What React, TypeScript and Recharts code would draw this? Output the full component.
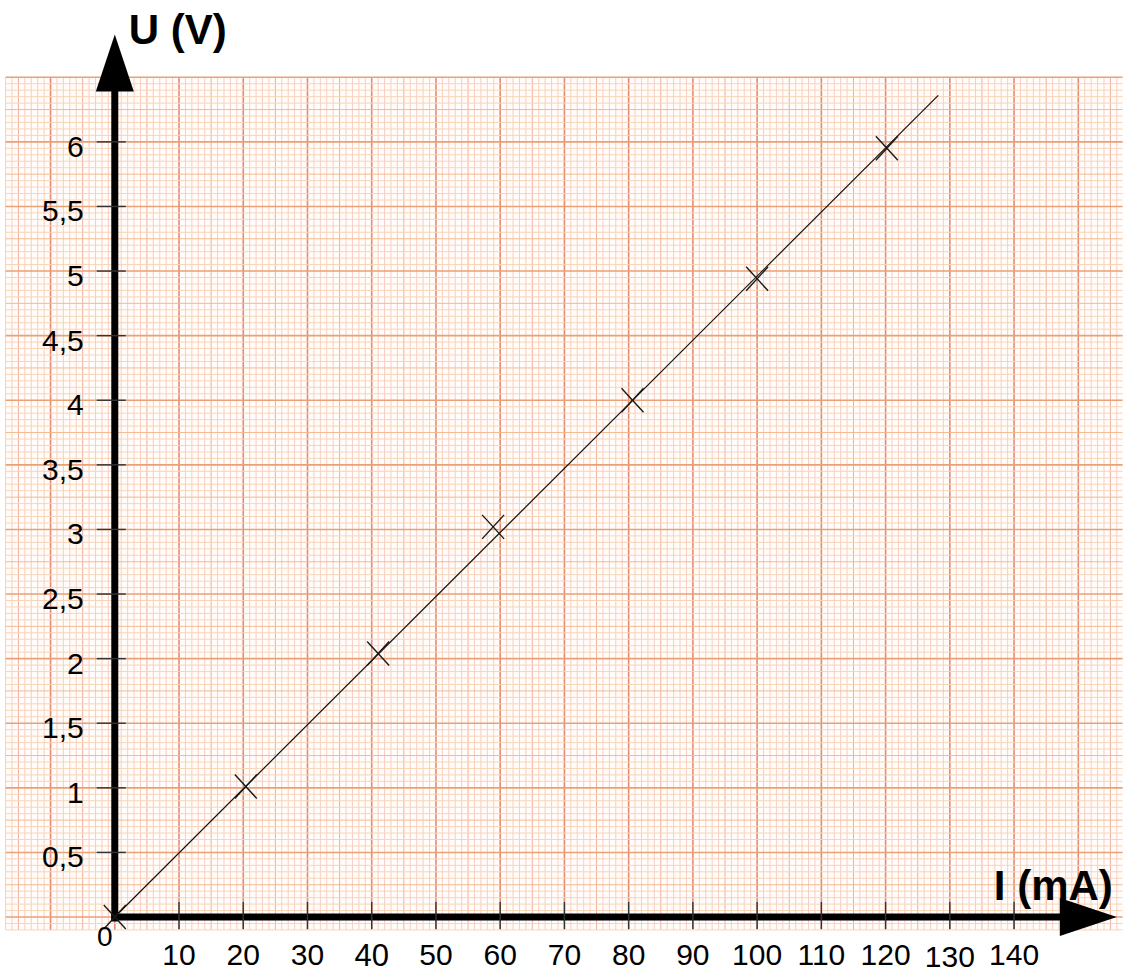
import {
  ComposedChart,
  Line,
  ReferenceArea,
  ReferenceDot,
  ReferenceLine,
  Scatter,
  XAxis,
  YAxis,
} from "recharts";

const CURRENT_MA = [0, 20.4, 41.0, 58.9, 80.6, 100.0, 120.2];
const VOLTAGE_V = [0, 1.01, 2.04, 3.02, 4.0, 4.94, 5.95];

// hand-drawn fit line
const FIT_I = [0, 128.2];
const FIT_U = [0, 6.36];

const X_TICKS = [10, 20, 30, 40, 50, 60, 70, 80, 90, 100, 110, 120, 130, 140];
const X_TICK_LABELS = ["10", "20", "30", "40", "50", "60", "70", "80", "90", "100", "110", "120", "130", "140"];
const Y_TICKS = [0.5, 1, 1.5, 2, 2.5, 3, 3.5, 4, 4.5, 5, 5.5, 6];
const Y_TICK_LABELS = ["0,5", "1", "1,5", "2", "2,5", "3", "3,5", "4", "4,5", "5", "5,5", "6"];

const X_TITLE = "I (mA)";
const Y_TITLE = "U (V)";

const WIDTH = 1123;
const HEIGHT = 974;
const X_DOMAIN: [number, number] = [-17.87, 156.96];
const Y_DOMAIN: [number, number] = [-0.441, 7.098];

// graph paper extent (data units)
const PAPER_X: [number, number] = [-17, 156.9];
const PAPER_Y: [number, number] = [-0.1, 6.5];

// axis arrows
const Y_ARROW_BASE = 6.4;
const Y_ARROW_TIP = 6.83;
const X_ARROW_BASE = 147.5;
const X_ARROW_TIP = 156.0;

const FONT = "'Liberation Sans', Arial, sans-serif";

const points = CURRENT_MA.map((x, i) => ({ x, y: VOLTAGE_V[i] }));
const fit = FIT_I.map((x, i) => ({ x, y: FIT_U[i] }));
const xTickData = X_TICKS.map((x, i) => ({ x, y: 0, label: X_TICK_LABELS[i] }));
const yTickData = Y_TICKS.map((y, i) => ({ x: 0, y, label: Y_TICK_LABELS[i] }));

// a few labels sit a little off on the original sheet
const X_LABEL_NUDGE: Record<string, { dy: number; size: number }> = {
  "40": { dy: 1, size: 31 },
  "130": { dy: 2, size: 30 },
};

// mm paper: 1 mA / 0.05 V per small square
const vLines: { v: number; kind: number }[] = [];
for (let i = Math.ceil(PAPER_X[0]); i <= Math.floor(PAPER_X[1]); i++) {
  vLines.push({ v: i, kind: i % 10 === 0 ? 2 : i % 5 === 0 ? 1 : 0 });
}
const hLines: { v: number; kind: number }[] = [];
for (let k = -2; k <= 130; k++) {
  hLines.push({ v: k * 0.05, kind: k % 10 === 0 ? 2 : k % 5 === 0 ? 1 : 0 });
}
const V_COLORS = ["#f7cec3", "#f0b09e", "#e48b74"];
const H_COLORS = ["#f8d5b6", "#f2bb93", "#e9a275"];
const WIDTHS = [1, 1, 1.6];

const Cross = (props: any) => {
  const { cx, cy } = props;
  return (
    <g stroke="#1a1a1a" strokeWidth={1.4}>
      <line x1={cx - 11} y1={cy - 12} x2={cx + 11} y2={cy + 12} />
      <line x1={cx - 11} y1={cy + 12} x2={cx + 11} y2={cy - 12} />
    </g>
  );
};

const XTick = (props: any) => {
  const { cx, cy, payload } = props;
  const n = X_LABEL_NUDGE[payload.label] || { dy: 0, size: 30 };
  return (
    <g>
      <line x1={cx} y1={cy - 15} x2={cx} y2={cy + 12} stroke="#333" strokeWidth={1.4} />
      <text x={cx} y={cy + 48 + n.dy} textAnchor="middle" fontSize={n.size} fontFamily={FONT} fill="#000">
        {payload.label}
      </text>
    </g>
  );
};

const YTick = (props: any) => {
  const { cx, cy, payload } = props;
  return (
    <g>
      <line x1={cx - 18} y1={cy} x2={cx + 11} y2={cy} stroke="#333" strokeWidth={1.4} />
      <text x={cx - 31} y={cy + 15} textAnchor="end" fontSize={30} fontFamily={FONT} fill="#000">
        {payload.label}
      </text>
    </g>
  );
};

const YArrow = (props: any) => {
  const { cx, cy } = props;
  return (
    <g>
      <polygon points={`${cx},${cy} ${cx - 19},${cy + 57} ${cx + 19},${cy + 57}`} fill="#000" />
      <text x={cx + 14} y={cy + 9} fontSize={42} fontWeight="bold" fontFamily={FONT} fill="#000">
        {Y_TITLE}
      </text>
    </g>
  );
};

const XArrow = (props: any) => {
  const { cx, cy } = props;
  return (
    <g>
      <polygon points={`${cx},${cy} ${cx - 57},${cy - 19} ${cx - 57},${cy + 19}`} fill="#000" />
      <text x={cx - 4} y={cy - 17} textAnchor="end" fontSize={42} fontWeight="bold" fontFamily={FONT} fill="#000">
        {X_TITLE}
      </text>
      <text x={cx - 1012} y={cy + 29} textAnchor="middle" fontSize={28} fontFamily={FONT} fill="#000">
        0
      </text>
    </g>
  );
};

export default function App() {
  return (
    <div style={{ position: "absolute", left: 0, top: 0, background: "#fff" }}>
      <ComposedChart width={WIDTH} height={HEIGHT} margin={{ top: 0, right: 0, bottom: 0, left: 0 }}>
        <XAxis type="number" dataKey="x" domain={X_DOMAIN} allowDataOverflow hide />
        <YAxis type="number" dataKey="y" domain={Y_DOMAIN} allowDataOverflow hide />

        <ReferenceArea x1={PAPER_X[0]} x2={PAPER_X[1]} y1={PAPER_Y[0]} y2={PAPER_Y[1]} fill="#fffcfa" fillOpacity={1} stroke="none" />
        {[0, 1, 2].map((kind) =>
          vLines
            .filter((l) => l.kind === kind)
            .map((l) => (
              <ReferenceLine
                key={`v${l.v}`}
                segment={[{ x: l.v, y: PAPER_Y[0] }, { x: l.v, y: PAPER_Y[1] }]}
                stroke={V_COLORS[kind]}
                strokeWidth={WIDTHS[kind]}
              />
            ))
        )}
        {[0, 1, 2].map((kind) =>
          hLines
            .filter((l) => l.kind === kind)
            .map((l) => (
              <ReferenceLine
                key={`h${l.v.toFixed(2)}`}
                segment={[{ x: PAPER_X[0], y: l.v }, { x: PAPER_X[1], y: l.v }]}
                stroke={H_COLORS[kind]}
                strokeWidth={WIDTHS[kind]}
              />
            ))
        )}

        <Line data={fit} dataKey="y" stroke="#111" strokeWidth={1.2} dot={false} activeDot={false} isAnimationActive={false} />
        <Scatter data={points} shape={<Cross />} isAnimationActive={false} />

        <ReferenceLine segment={[{ x: 0, y: -0.035 }, { x: 0, y: Y_ARROW_BASE }]} stroke="#000" strokeWidth={7} />
        <ReferenceLine segment={[{ x: -0.55, y: 0 }, { x: X_ARROW_BASE, y: 0 }]} stroke="#000" strokeWidth={7} />
        <ReferenceDot x={0} y={Y_ARROW_TIP} r={1} shape={<YArrow />} />
        <ReferenceDot x={X_ARROW_TIP} y={0} r={1} shape={<XArrow />} />

        <Scatter data={xTickData} shape={<XTick />} isAnimationActive={false} />
        <Scatter data={yTickData} shape={<YTick />} isAnimationActive={false} />
      </ComposedChart>
    </div>
  );
}
